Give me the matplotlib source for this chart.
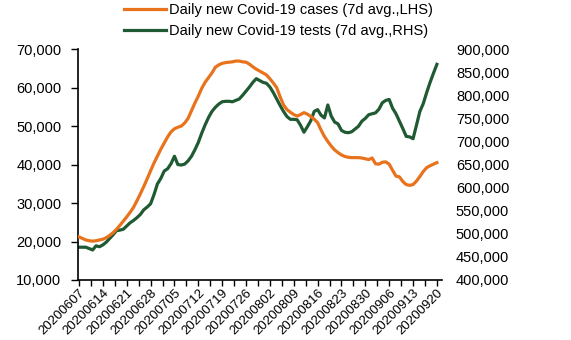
import matplotlib
matplotlib.use('Agg')
import matplotlib.pyplot as plt
import matplotlib.ticker as mticker
import numpy as np
import pandas as pd

plt.rcParams['font.family'] = ['Liberation Sans', 'DejaVu Sans']

# 7-day average, one value per day from 2020-06-07 to 2020-09-20
dates = pd.date_range('2020-06-07', '2020-09-20', freq='D')

cases = [21200, 20800, 20400, 20200, 20100, 20200, 20400, 20600, 21000, 21600,
         22300, 23200, 24200, 25300, 26400, 27600, 28900, 30600, 32400, 34300,
         36300, 38400, 40400, 42200, 44000, 45600, 47200, 48500, 49300, 49700,
         50000, 50800, 52000, 54000, 56000, 57800, 59800, 61400, 62600, 63800,
         65300, 65900, 66300, 66500, 66600, 66700, 66900, 66900, 66700, 66600,
         66100, 65400, 64800, 64300, 63800, 63300, 62300, 61200, 60000, 57600,
         55500, 54300, 53600, 53000, 52600, 53000, 53500, 53100, 52500, 51800,
         50900, 49000, 47300, 46000, 44800, 43800, 43100, 42500, 42100, 41900,
         41800, 41800, 41800, 41700, 41500, 41300, 41700, 40200, 40100, 40600,
         40700, 40100, 38500, 37000, 36800, 35600, 34800, 34600, 34800, 35700,
         36900, 38200, 39200, 39700, 40100, 40500]

tests = [471000, 471000, 471000, 468000, 465000, 474000, 472000, 476000, 482000, 490000,
         498000, 507000, 508000, 510000, 517000, 524000, 529000, 535000, 542000, 552000,
         558000, 565000, 585000, 608000, 620000, 636000, 641000, 652000, 668000, 650000,
         649000, 651000, 658000, 668000, 682000, 698000, 718000, 736000, 752000, 765000,
         774000, 781000, 786000, 787000, 787000, 786000, 789000, 792000, 800000, 809000,
         818000, 828000, 836000, 832000, 828000, 826000, 818000, 806000, 792000, 778000,
         765000, 754000, 748000, 748000, 747000, 735000, 720000, 732000, 745000, 765000,
         769000, 757000, 751000, 779000, 755000, 742000, 738000, 724000, 720000, 719000,
         721000, 727000, 733000, 744000, 750000, 758000, 760000, 762000, 770000, 784000,
         789000, 791000, 772000, 760000, 744000, 728000, 711000, 710000, 706000, 735000,
         765000, 782000, 806000, 828000, 848000, 867000]

orange = '#E8731C'
green = '#1F5A32'
fs = 10.5

fig = plt.figure(figsize=(5.71, 3.40), dpi=100)
ax = fig.add_axes([0.1366, 0.1765, 0.6375, 0.679])
ax2 = ax.twinx()

x = np.arange(len(dates))
l1, = ax.plot(x, cases, color=orange, lw=2.3, label='Daily new Covid-19 cases (7d avg.,LHS)', zorder=3)
l2, = ax2.plot(x, tests, color=green, lw=2.3, label='Daily new Covid-19 tests (7d avg.,RHS)', zorder=2)
ax.set_zorder(ax2.get_zorder() + 1)
ax.patch.set_visible(False)

ax.set_xlim(-0.3, 106.5)
ax.set_ylim(10000, 70000)
ax2.set_ylim(400000, 900000)
ax.yaxis.set_major_locator(mticker.MultipleLocator(10000))
ax2.yaxis.set_major_locator(mticker.MultipleLocator(50000))
fmt = mticker.FuncFormatter(lambda v, p: f'{v:,.0f}')
ax.yaxis.set_major_formatter(fmt)
ax2.yaxis.set_major_formatter(fmt)

ax.set_xticks(x[::7])
ax.set_xticklabels([d.strftime('%Y%m%d') for d in dates[::7]], rotation=45,
                   ha='right', rotation_mode='anchor', fontsize=9.5)
ax.set_xticks(np.arange(0, 107, 3.5), minor=True)
ax.tick_params(axis='x', which='both', length=4, width=1, direction='out', pad=1)
ax.tick_params(axis='y', length=5, width=1, pad=7, labelsize=fs)
ax2.tick_params(axis='y', length=0, pad=10, labelsize=fs)

for s in ['top', 'right']:
    ax.spines[s].set_visible(False)
for s in ['top', 'right', 'left', 'bottom']:
    ax2.spines[s].set_visible(False)
ax.spines['left'].set_linewidth(1.2)
ax.spines['bottom'].set_linewidth(1.2)

fig.legend(handles=[l1, l2], loc='upper left', bbox_to_anchor=(0.207, 1.008),
           frameon=False, fontsize=fs, handlelength=2.9, handletextpad=0.15,
           labelspacing=0.5, borderaxespad=0)

fig.savefig('out.png', dpi=100)
